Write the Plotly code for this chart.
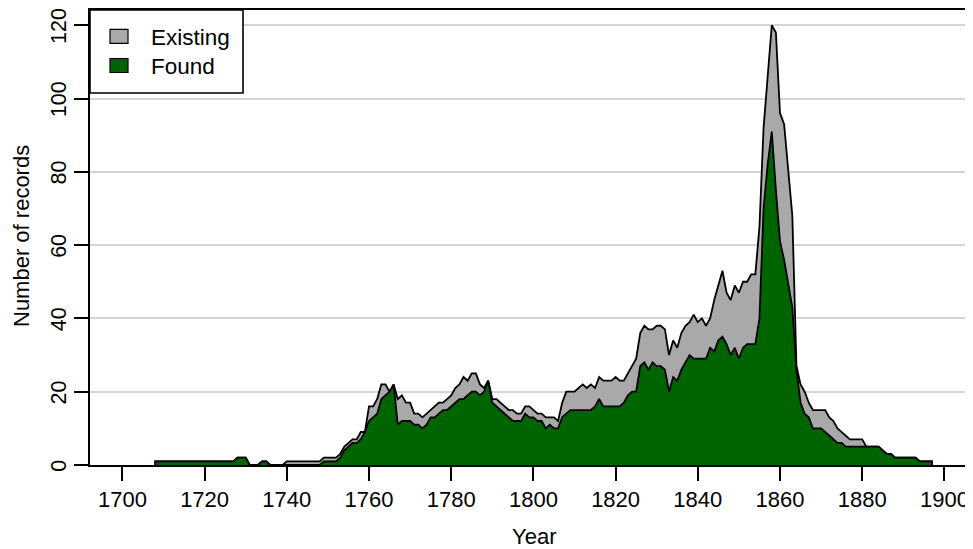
import plotly.graph_objects as go

# ---- data ----
years = list(range(1708, 1898))

found = (
    [1] * 20                      # 1708-1727
    + [2, 2, 2, 0, 0, 0, 1, 1]    # 1728-1735
    + [0, 0, 0, 0]                # 1736-1739
    + [0] * 9                     # 1740-1748
    + [1, 1, 1, 1, 2, 4, 5, 6, 6, 7, 9]        # 1749-1759
    + [12, 13, 14, 18, 19, 20, 22, 11, 12, 12]  # 1760-1769
    + [12, 11, 11, 10, 11, 13, 13, 14, 15, 15]  # 1770-1779
    + [16, 17, 18, 18, 19, 20, 20, 19, 20, 23]  # 1780-1789
    + [17, 16, 15, 14, 13, 12, 12, 12, 14, 13]  # 1790-1799
    + [13, 12, 12, 10, 11, 10, 10, 13, 14, 15]  # 1800-1809
    + [15, 15, 15, 15, 15, 16, 18, 16, 16, 16]  # 1810-1819
    + [16, 16, 17, 19, 20, 20, 27, 28, 26, 28]  # 1820-1829
    + [27, 27, 26, 20, 24, 23, 26, 28, 30, 29]  # 1830-1839
    + [29, 29, 29, 32, 31, 34, 35, 33, 30, 32]  # 1840-1849
    + [29, 32, 33, 33, 33, 40, 70, 82, 91, 75]  # 1850-1859
    + [61, 56, 50, 43, 26, 17, 14, 13, 10, 10]  # 1860-1869
    + [10, 9, 8, 7, 6, 6, 5, 5, 5, 5]           # 1870-1879
    + [5, 5, 5, 5, 5, 4, 3, 3, 2, 2]            # 1880-1889
    + [2, 2, 2, 2, 1, 1, 1, 1]                  # 1890-1897
)

existing = (
    [1] * 20                      # 1708-1727
    + [2, 2, 2, 0, 0, 0, 1, 1]    # 1728-1735
    + [0, 0, 0, 0]                # 1736-1739
    + [1] * 9                     # 1740-1748
    + [2, 2, 2, 2, 3, 5, 6, 7, 7, 9, 9]        # 1749-1759
    + [16, 16, 18, 22, 22, 20, 22, 18, 19, 17]  # 1760-1769
    + [17, 14, 14, 13, 14, 15, 16, 17, 17, 18]  # 1770-1779
    + [19, 21, 22, 24, 23, 25, 25, 22, 21, 23]  # 1780-1789
    + [18, 18, 17, 16, 15, 15, 14, 14, 16, 16]  # 1790-1799
    + [15, 14, 14, 13, 13, 13, 12, 17, 20, 20]  # 1800-1809
    + [20, 21, 22, 21, 22, 21, 24, 23, 23, 23]  # 1810-1819
    + [24, 23, 23, 25, 27, 29, 36, 38, 37, 37]  # 1820-1829
    + [38, 38, 37, 30, 34, 32, 36, 38, 39, 41]  # 1830-1839
    + [39, 40, 38, 40, 45, 49, 53, 47, 45, 49]  # 1840-1849
    + [47, 50, 50, 52, 52, 65, 92, 106, 120, 118]  # 1850-1859
    + [96, 93, 81, 68, 27, 22, 20, 17, 15, 15]  # 1860-1869
    + [15, 15, 13, 12, 10, 9, 8, 7, 7, 7]       # 1870-1879
    + [7, 5, 5, 5, 5, 4, 3, 3, 2, 2]            # 1880-1889
    + [2, 2, 2, 2, 1, 1, 1, 1]                  # 1890-1897
)

x_ticks = [1700, 1720, 1740, 1760, 1780, 1800, 1820, 1840, 1860, 1880, 1900]
y_ticks = [0, 20, 40, 60, 80, 100, 120]
series_names = ["Existing", "Found"]
series_colors = ["#a9a9a9", "#006400"]

assert len(found) == len(years) and len(existing) == len(years)

# ---- layout geometry ----
# The HTML page has an 8px body margin, so the figure is drawn 8px in from the
# window's top-left corner; all page-pixel positions below are shifted by OFF.
OFF = 8
PAGE_W, PAGE_H = 973, 549
W, H = PAGE_W - OFF, PAGE_H - OFF
L = 90 - OFF          # left axis at page x=90
T = 2                 # top border as close to the page top as possible
B = PAGE_H - 465      # x axis (y=0) at page y=465
R = 0
PW, PH = W - L - R, H - T - B

# y scale: 0 at page 465, 120 at page 25.2
y_per_px = 120 / (465 - 25.2)
y_top = (465 - (T + OFF)) * y_per_px
# x scale: 1700 at page 122.4, 1900 at page 944.4
yr_per_px = 200 / (944.4 - 122.4)
x_lo = 1700 - (122.4 - 90) * yr_per_px
x_hi = 1900 + (PAGE_W - 944.4) * yr_per_px


def px(xpage):
    return (xpage - OFF - L) / PW


def py(ypage):
    return (H - B - (ypage - OFF)) / PH


def polygon(vals):
    xs = [years[0]] + years + [years[-1]]
    ys = [0] + list(vals) + [0]
    return xs, ys


fig = go.Figure()
for name, vals, col in zip(series_names, [existing, found], series_colors):
    xs, ys = polygon(vals)
    fig.add_trace(go.Scatter(
        x=xs, y=ys, name=name, mode="lines", fill="toself",
        fillcolor=col, line=dict(color="black", width=1.8),
        showlegend=False, hoverinfo="skip",
    ))

font_family = "Liberation Sans, Arial, Helvetica, sans-serif"

fig.update_layout(
    width=W, height=H, autosize=False,
    margin=dict(l=L, r=R, t=T, b=B, pad=0),
    paper_bgcolor="white", plot_bgcolor="white",
    font=dict(family=font_family, size=22, color="black"),
    xaxis=dict(
        range=[x_lo, x_hi], tickmode="array", tickvals=x_ticks,
        ticktext=[str(v) for v in x_ticks], automargin=False,
        showgrid=False, zeroline=False, ticklabeloverflow="allow",
        showline=True, linecolor="black", linewidth=1.6, mirror=True,
        ticks="outside", ticklen=14, tickwidth=1.6, tickcolor="black",
        tickfont=dict(size=22),
    ),
    yaxis=dict(
        range=[0, y_top], tickmode="array", tickvals=y_ticks,
        ticktext=[str(v) for v in y_ticks], automargin=False,
        showgrid=True, gridcolor="#d4d4d4", gridwidth=1.5, zeroline=False,
        showline=True, linecolor="black", linewidth=1.6,
        ticklabeloverflow="allow", ticklabelshift=4,
        ticks="outside", ticklen=14, tickwidth=1.6, tickcolor="black",
        tickangle=-90, tickfont=dict(size=21.5),
    ),
)

# axis titles
fig.add_annotation(text="Year", x=px(533.5), y=py(536), xref="paper", yref="paper",
                   showarrow=False, xanchor="center", yanchor="middle",
                   font=dict(size=22))
fig.add_annotation(text="Number of records", x=px(21.5), y=py(236.5), xref="paper",
                   yref="paper", showarrow=False, textangle=-90,
                   xanchor="center", yanchor="middle", font=dict(size=22))

# legend box (drawn manually to match the reference)
fig.add_shape(type="rect", xref="paper", yref="paper",
              x0=px(90), x1=px(243), y0=py(93), y1=py(10),
              fillcolor="white", line=dict(color="black", width=1.6), layer="above")
for i, (name, col) in enumerate(zip(series_names, series_colors)):
    cy = 36.3 + i * 29.2
    fig.add_shape(type="rect", xref="paper", yref="paper",
                  x0=px(110), x1=px(128), y0=py(cy + 7), y1=py(cy - 7),
                  fillcolor=col, line=dict(color="black", width=1.2), layer="above")
    fig.add_annotation(text=name, x=px(149), y=py(cy + 1), xref="paper", yref="paper",
                       showarrow=False, xanchor="left", yanchor="middle",
                       font=dict(size=22.5))

fig.write_html("out.html")
